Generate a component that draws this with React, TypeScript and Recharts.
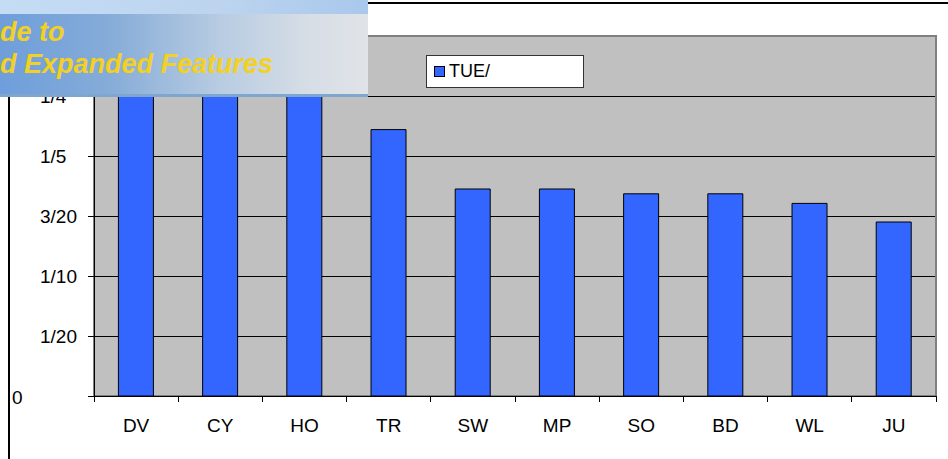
import React from 'react';
import { BarChart, Bar, XAxis, YAxis, CartesianGrid, ReferenceArea } from 'recharts';

const categories = ['DV', 'CY', 'HO', 'TR', 'SW', 'MP', 'SO', 'BD', 'WL', 'JU'];
const tueValues = [0.28, 0.275, 0.27, 0.222, 0.1725, 0.1725, 0.1685, 0.1685, 0.1605, 0.145];
const yTicks = [0, 0.05, 0.1, 0.15, 0.2, 0.25, 0.3];
const yTickLabels = ['0', '1/20', '1/10', '3/20', '1/5', '1/4', '3/10'];
const seriesName = 'TUE/';
const seriesColor = '#3366ff';
const bannerLines = ['de to', 'd Expanded Features'];

const data = categories.map((c, i) => ({ cat: c, tue: tueValues[i] }));

const FONT = '"Liberation Sans", Arial, sans-serif';
const W = 948;
const H = 459;
const PLOT_LEFT = 94;
const PLOT_RIGHT = 12;
const BAND = (W - PLOT_LEFT - PLOT_RIGHT) / categories.length;

const YTick = (props: any) => {
  const { y, payload } = props;
  const idx = yTicks.indexOf(payload.value);
  const label = idx >= 0 ? yTickLabels[idx] : String(payload.value);
  const tx = payload.value === 0 ? 12 : 40;
  return (
    <text x={tx} y={y + (payload.value === 0 ? 1 : 0)} dy={6.5} textAnchor="start" fontSize={19} fontFamily={FONT} fill="#000">
      {label}
    </text>
  );
};

const XTick = (props: any) => {
  const { x, y, payload, index } = props;
  const last = index === categories.length - 1;
  return (
    <g>
      <line x1={x - BAND / 2} x2={x - BAND / 2} y1={y} y2={y + 6} stroke="#000" strokeWidth={1} shapeRendering="crispEdges" />
      {last && <line x1={x + BAND / 2} x2={x + BAND / 2} y1={y} y2={y + 6} stroke="#000" strokeWidth={1} shapeRendering="crispEdges" />}
      <text x={x} y={y + 36} textAnchor="middle" fontSize={19} fontFamily={FONT} fill="#000">
        {payload.value}
      </text>
    </g>
  );
};

export default function App() {
  return (
    <div style={{ position: 'absolute', left: 0, top: 0, width: W, height: H, background: '#fff', overflow: 'hidden' }}>
      {/* chart area border */}
      <div style={{ position: 'absolute', left: 8, top: 2, width: W, height: H, borderLeft: '2px solid #000', borderTop: '2px solid #000' }} />
      <div style={{ position: 'absolute', left: 0, top: 0 }}>
        <BarChart
          width={W}
          height={H}
          data={data}
          margin={{ top: 36, right: PLOT_RIGHT, bottom: 0, left: 0 }}
          barCategoryGap="29%"
        >
          <CartesianGrid vertical={false} stroke="#000" fill="#c0c0c0" fillOpacity={1} shapeRendering="crispEdges" />
          <ReferenceArea y1={0} y2={0.3} fill="none" stroke="#808080" strokeWidth={2} ifOverflow="visible" />
          <XAxis
            dataKey="cat"
            height={63}
            axisLine={{ stroke: '#000', shapeRendering: 'crispEdges' }}
            tickLine={false}
            tickSize={0}
            tickMargin={0}
            tick={<XTick />}
            interval={0}
          />
          <YAxis
            width={PLOT_LEFT}
            domain={[0, 0.3]}
            ticks={yTicks}
            axisLine={{ stroke: '#000', shapeRendering: 'crispEdges' }}
            tickLine={{ stroke: '#000', shapeRendering: 'crispEdges' }}
            tickSize={6}
            tick={<YTick />}
            allowDataOverflow
          />
          <Bar dataKey="tue" name={seriesName} fill={seriesColor} stroke="#000" strokeWidth={1} isAnimationActive={false} />
        </BarChart>
      </div>
      {/* legend */}
      <div
        style={{
          position: 'absolute',
          left: 426,
          top: 55,
          width: 156,
          height: 31,
          background: '#fff',
          border: '1px solid #333',
          display: 'flex',
          alignItems: 'center',
          fontFamily: FONT,
          fontSize: 18,
        }}
      >
        <div style={{ width: 9, height: 9, background: seriesColor, border: '1px solid #000', marginLeft: 7, marginRight: 4 }} />
        <span style={{ color: '#000' }}>{seriesName}</span>
      </div>
      {/* overlay banner */}
      <div style={{ position: 'absolute', left: 0, top: 0, width: 368, height: 97, overflow: 'hidden' }}>
        <div style={{ position: 'absolute', left: 0, top: 0, width: 368, height: 14, background: 'linear-gradient(to right, #c4dcf4, #bcd4ee 60%, #a8c8ec)' }} />
        <div
          style={{
            position: 'absolute',
            left: 0,
            top: 14,
            width: 368,
            height: 81,
            background: 'linear-gradient(to right, #6e9edb 0%, #86acd8 30%, #b8cce2 60%, #d8dee6 85%, #e0e3e8 100%)',
          }}
        />
        <div style={{ position: 'absolute', left: 0, top: 94, width: 368, height: 3, background: '#7ea6cf' }} />
        <div
          style={{
            position: 'absolute',
            left: 0,
            top: 17,
            fontFamily: FONT,
            fontWeight: 'bold',
            fontStyle: 'italic',
            fontSize: 27,
            lineHeight: '31px',
            color: '#f2d024',
            whiteSpace: 'nowrap',
          }}
        >
          <div>{bannerLines[0]}</div>
          <div style={{ marginTop: 1 }}>{bannerLines[1]}</div>
        </div>
      </div>
    </div>
  );
}
